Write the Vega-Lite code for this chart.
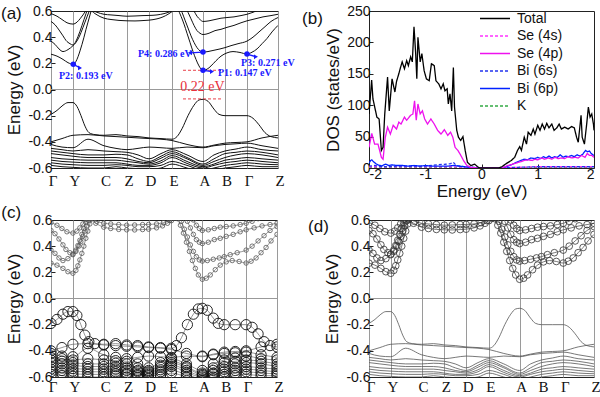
{
"$schema":"https://vega.github.io/schema/vega-lite/v6.json",
"background":"white",
"padding":{"left":0,"top":3,"right":0,"bottom":0},
"config":{
 "view":{"stroke":"#222","strokeWidth":1},
 "axis":{"labelFont":"Liberation Sans","titleFont":"Liberation Sans","labelFontSize":14,"titleFontSize":17,"titleFontWeight":"normal","labelColor":"#111","titleColor":"#111","tickColor":"#222","domain":false,"grid":false,"labelOverlap":false,"tickCount":20}
},
"datasets":{
"klab":[{"k":0,"l":"Γ"},{"k":22,"l":"Y"},{"k":53,"l":"C"},{"k":76,"l":"Z"},{"k":98,"l":"D"},{"k":121,"l":"E"},{"k":152,"l":"A"},{"k":174,"l":"B"},{"k":196,"l":"Γ"},{"k":227,"l":"Z"}],
"bands":[
{"b":"c1","t":"c","k":0,"e":0.27},{"b":"c1","t":"c","k":6,"e":0.255},{"b":"c1","t":"c","k":12,"e":0.23},{"b":"c1","t":"c","k":17,"e":0.205},{"b":"c1","t":"c","k":22,"e":0.193},{"b":"c1","t":"c","k":25,"e":0.215},{"b":"c1","t":"c","k":27,"e":0.25},{"b":"c1","t":"c","k":29,"e":0.295},{"b":"c1","t":"c","k":31,"e":0.345},{"b":"c1","t":"c","k":33,"e":0.4},{"b":"c1","t":"c","k":35,"e":0.46},{"b":"c1","t":"c","k":37,"e":0.515},{"b":"c1","t":"c","k":39,"e":0.57},{"b":"c1","t":"c","k":41,"e":0.625},
{"b":"c2","t":"c","k":0,"e":0.37},{"b":"c2","t":"c","k":4,"e":0.345},{"b":"c2","t":"c","k":8,"e":0.31},{"b":"c2","t":"c","k":12,"e":0.29},{"b":"c2","t":"c","k":17,"e":0.305},{"b":"c2","t":"c","k":22,"e":0.335},{"b":"c2","t":"c","k":25,"e":0.36},{"b":"c2","t":"c","k":28,"e":0.4},{"b":"c2","t":"c","k":30,"e":0.435},{"b":"c2","t":"c","k":32,"e":0.475},{"b":"c2","t":"c","k":34,"e":0.515},{"b":"c2","t":"c","k":36,"e":0.555},{"b":"c2","t":"c","k":38,"e":0.595},{"b":"c2","t":"c","k":40,"e":0.635},
{"b":"c3","t":"c","k":0,"e":0.52},{"b":"c3","t":"c","k":4,"e":0.495},{"b":"c3","t":"c","k":8,"e":0.455},{"b":"c3","t":"c","k":12,"e":0.41},{"b":"c3","t":"c","k":15,"e":0.375},{"b":"c3","t":"c","k":19,"e":0.35},{"b":"c3","t":"c","k":22,"e":0.34},{"b":"c3","t":"c","k":25,"e":0.37},{"b":"c3","t":"c","k":27,"e":0.405},{"b":"c3","t":"c","k":29,"e":0.445},{"b":"c3","t":"c","k":31,"e":0.49},{"b":"c3","t":"c","k":33,"e":0.535},{"b":"c3","t":"c","k":35,"e":0.58},{"b":"c3","t":"c","k":37,"e":0.625},
{"b":"c4","t":"c","k":0,"e":0.58},{"b":"c4","t":"c","k":6,"e":0.56},{"b":"c4","t":"c","k":11,"e":0.535},{"b":"c4","t":"c","k":16,"e":0.51},{"b":"c4","t":"c","k":22,"e":0.5},{"b":"c4","t":"c","k":26,"e":0.515},{"b":"c4","t":"c","k":29,"e":0.54},{"b":"c4","t":"c","k":32,"e":0.57},{"b":"c4","t":"c","k":35,"e":0.605},
{"b":"c5","t":"c","k":34,"e":0.64},{"b":"c5","t":"c","k":40,"e":0.61},{"b":"c5","t":"c","k":46,"e":0.59},{"b":"c5","t":"c","k":53,"e":0.575},{"b":"c5","t":"c","k":60,"e":0.57},{"b":"c5","t":"c","k":68,"e":0.565},{"b":"c5","t":"c","k":76,"e":0.56},{"b":"c5","t":"c","k":84,"e":0.562},{"b":"c5","t":"c","k":92,"e":0.565},{"b":"c5","t":"c","k":98,"e":0.566},{"b":"c5","t":"c","k":106,"e":0.57},{"b":"c5","t":"c","k":113,"e":0.58},{"b":"c5","t":"c","k":119,"e":0.595},{"b":"c5","t":"c","k":124,"e":0.615},{"b":"c5","t":"c","k":128,"e":0.64},
{"b":"c6","t":"c","k":36,"e":0.64},{"b":"c6","t":"c","k":40,"e":0.605},{"b":"c6","t":"c","k":45,"e":0.575},{"b":"c6","t":"c","k":53,"e":0.545},{"b":"c6","t":"c","k":60,"e":0.535},{"b":"c6","t":"c","k":68,"e":0.528},{"b":"c6","t":"c","k":76,"e":0.525},{"b":"c6","t":"c","k":84,"e":0.524},{"b":"c6","t":"c","k":92,"e":0.527},{"b":"c6","t":"c","k":98,"e":0.53},{"b":"c6","t":"c","k":106,"e":0.54},{"b":"c6","t":"c","k":112,"e":0.555},{"b":"c6","t":"c","k":117,"e":0.575},{"b":"c6","t":"c","k":121,"e":0.595},{"b":"c6","t":"c","k":125,"e":0.62},
{"b":"c7","t":"c","k":124,"e":0.64},{"b":"c7","t":"c","k":127,"e":0.61},{"b":"c7","t":"c","k":130,"e":0.56},{"b":"c7","t":"c","k":133,"e":0.5},{"b":"c7","t":"c","k":136,"e":0.43},{"b":"c7","t":"c","k":139,"e":0.36},{"b":"c7","t":"c","k":142,"e":0.29},{"b":"c7","t":"c","k":145,"e":0.23},{"b":"c7","t":"c","k":148,"e":0.18},{"b":"c7","t":"c","k":152,"e":0.147},{"b":"c7","t":"c","k":156,"e":0.155},{"b":"c7","t":"c","k":160,"e":0.18},{"b":"c7","t":"c","k":165,"e":0.22},{"b":"c7","t":"c","k":170,"e":0.255},{"b":"c7","t":"c","k":176,"e":0.28},{"b":"c7","t":"c","k":182,"e":0.29},{"b":"c7","t":"c","k":189,"e":0.283},{"b":"c7","t":"c","k":196,"e":0.271},{"b":"c7","t":"c","k":201,"e":0.285},{"b":"c7","t":"c","k":206,"e":0.31},{"b":"c7","t":"c","k":211,"e":0.35},{"b":"c7","t":"c","k":216,"e":0.39},{"b":"c7","t":"c","k":221,"e":0.44},{"b":"c7","t":"c","k":227,"e":0.49},
{"b":"c8","t":"c","k":128,"e":0.64},{"b":"c8","t":"c","k":131,"e":0.59},{"b":"c8","t":"c","k":134,"e":0.53},{"b":"c8","t":"c","k":137,"e":0.47},{"b":"c8","t":"c","k":140,"e":0.41},{"b":"c8","t":"c","k":143,"e":0.36},{"b":"c8","t":"c","k":146,"e":0.32},{"b":"c8","t":"c","k":149,"e":0.295},{"b":"c8","t":"c","k":152,"e":0.286},{"b":"c8","t":"c","k":157,"e":0.29},{"b":"c8","t":"c","k":163,"e":0.3},{"b":"c8","t":"c","k":169,"e":0.31},{"b":"c8","t":"c","k":174,"e":0.32},{"b":"c8","t":"c","k":180,"e":0.335},{"b":"c8","t":"c","k":187,"e":0.35},{"b":"c8","t":"c","k":196,"e":0.37},{"b":"c8","t":"c","k":202,"e":0.4},{"b":"c8","t":"c","k":208,"e":0.44},{"b":"c8","t":"c","k":214,"e":0.48},{"b":"c8","t":"c","k":220,"e":0.52},{"b":"c8","t":"c","k":227,"e":0.55},
{"b":"c9","t":"c","k":134,"e":0.64},{"b":"c9","t":"c","k":137,"e":0.59},{"b":"c9","t":"c","k":140,"e":0.54},{"b":"c9","t":"c","k":143,"e":0.49},{"b":"c9","t":"c","k":146,"e":0.45},{"b":"c9","t":"c","k":149,"e":0.43},{"b":"c9","t":"c","k":152,"e":0.42},{"b":"c9","t":"c","k":158,"e":0.43},{"b":"c9","t":"c","k":164,"e":0.45},{"b":"c9","t":"c","k":170,"e":0.46},{"b":"c9","t":"c","k":176,"e":0.475},{"b":"c9","t":"c","k":183,"e":0.49},{"b":"c9","t":"c","k":190,"e":0.51},{"b":"c9","t":"c","k":196,"e":0.525},{"b":"c9","t":"c","k":204,"e":0.54},{"b":"c9","t":"c","k":212,"e":0.555},{"b":"c9","t":"c","k":220,"e":0.565},{"b":"c9","t":"c","k":227,"e":0.575},
{"b":"c10","t":"c","k":140,"e":0.64},{"b":"c10","t":"c","k":143,"e":0.6},{"b":"c10","t":"c","k":146,"e":0.56},{"b":"c10","t":"c","k":149,"e":0.535},{"b":"c10","t":"c","k":152,"e":0.52},{"b":"c10","t":"c","k":158,"e":0.525},{"b":"c10","t":"c","k":164,"e":0.535},{"b":"c10","t":"c","k":170,"e":0.545},{"b":"c10","t":"c","k":176,"e":0.55},{"b":"c10","t":"c","k":183,"e":0.555},{"b":"c10","t":"c","k":190,"e":0.565},{"b":"c10","t":"c","k":196,"e":0.575},{"b":"c10","t":"c","k":202,"e":0.59},{"b":"c10","t":"c","k":208,"e":0.61},
{"b":"v1","t":"v","k":0,"e":-0.19},{"b":"v1","t":"v","k":6,"e":-0.16},{"b":"v1","t":"v","k":12,"e":-0.12},{"b":"v1","t":"v","k":17,"e":-0.1},{"b":"v1","t":"v","k":22,"e":-0.1},{"b":"v1","t":"v","k":26,"e":-0.13},{"b":"v1","t":"v","k":30,"e":-0.2},{"b":"v1","t":"v","k":34,"e":-0.28},{"b":"v1","t":"v","k":38,"e":-0.33},{"b":"v1","t":"v","k":44,"e":-0.345},{"b":"v1","t":"v","k":53,"e":-0.35},{"b":"v1","t":"v","k":65,"e":-0.345},{"b":"v1","t":"v","k":76,"e":-0.355},{"b":"v1","t":"v","k":87,"e":-0.36},{"b":"v1","t":"v","k":98,"e":-0.37},{"b":"v1","t":"v","k":110,"e":-0.375},{"b":"v1","t":"v","k":121,"e":-0.38},{"b":"v1","t":"v","k":126,"e":-0.36},{"b":"v1","t":"v","k":131,"e":-0.3},{"b":"v1","t":"v","k":137,"e":-0.2},{"b":"v1","t":"v","k":143,"e":-0.12},{"b":"v1","t":"v","k":148,"e":-0.08},{"b":"v1","t":"v","k":152,"e":-0.075},{"b":"v1","t":"v","k":157,"e":-0.09},{"b":"v1","t":"v","k":163,"e":-0.15},{"b":"v1","t":"v","k":168,"e":-0.19},{"b":"v1","t":"v","k":174,"e":-0.2},{"b":"v1","t":"v","k":185,"e":-0.2},{"b":"v1","t":"v","k":196,"e":-0.2},{"b":"v1","t":"v","k":202,"e":-0.22},{"b":"v1","t":"v","k":208,"e":-0.27},{"b":"v1","t":"v","k":214,"e":-0.33},{"b":"v1","t":"v","k":220,"e":-0.36},{"b":"v1","t":"v","k":227,"e":-0.37},
{"b":"v2","t":"v","k":0,"e":-0.4},{"b":"v2","t":"v","k":11,"e":-0.375},{"b":"v2","t":"v","k":22,"e":-0.35},{"b":"v2","t":"v","k":37,"e":-0.345},{"b":"v2","t":"v","k":53,"e":-0.355},{"b":"v2","t":"v","k":65,"e":-0.36},{"b":"v2","t":"v","k":76,"e":-0.365},{"b":"v2","t":"v","k":87,"e":-0.37},{"b":"v2","t":"v","k":98,"e":-0.375},{"b":"v2","t":"v","k":110,"e":-0.38},{"b":"v2","t":"v","k":121,"e":-0.39},{"b":"v2","t":"v","k":136,"e":-0.42},{"b":"v2","t":"v","k":152,"e":-0.44},{"b":"v2","t":"v","k":163,"e":-0.425},{"b":"v2","t":"v","k":174,"e":-0.41},{"b":"v2","t":"v","k":185,"e":-0.405},{"b":"v2","t":"v","k":196,"e":-0.4},{"b":"v2","t":"v","k":211,"e":-0.37},{"b":"v2","t":"v","k":227,"e":-0.35},
{"b":"v3","t":"v","k":0,"e":-0.42},{"b":"v3","t":"v","k":11,"e":-0.44},{"b":"v3","t":"v","k":22,"e":-0.445},{"b":"v3","t":"v","k":37,"e":-0.38},{"b":"v3","t":"v","k":53,"e":-0.43},{"b":"v3","t":"v","k":65,"e":-0.45},{"b":"v3","t":"v","k":76,"e":-0.46},{"b":"v3","t":"v","k":87,"e":-0.45},{"b":"v3","t":"v","k":98,"e":-0.44},{"b":"v3","t":"v","k":110,"e":-0.445},{"b":"v3","t":"v","k":121,"e":-0.45},{"b":"v3","t":"v","k":136,"e":-0.44},{"b":"v3","t":"v","k":152,"e":-0.445},{"b":"v3","t":"v","k":163,"e":-0.43},{"b":"v3","t":"v","k":174,"e":-0.42},{"b":"v3","t":"v","k":185,"e":-0.415},{"b":"v3","t":"v","k":196,"e":-0.41},{"b":"v3","t":"v","k":211,"e":-0.43},{"b":"v3","t":"v","k":227,"e":-0.45},
{"b":"v4","t":"v","k":0,"e":-0.45},{"b":"v4","t":"v","k":11,"e":-0.46},{"b":"v4","t":"v","k":22,"e":-0.47},{"b":"v4","t":"v","k":37,"e":-0.46},{"b":"v4","t":"v","k":53,"e":-0.47},{"b":"v4","t":"v","k":65,"e":-0.475},{"b":"v4","t":"v","k":76,"e":-0.48},{"b":"v4","t":"v","k":87,"e":-0.5},{"b":"v4","t":"v","k":98,"e":-0.53},{"b":"v4","t":"v","k":110,"e":-0.49},{"b":"v4","t":"v","k":121,"e":-0.46},{"b":"v4","t":"v","k":136,"e":-0.5},{"b":"v4","t":"v","k":152,"e":-0.55},{"b":"v4","t":"v","k":163,"e":-0.5},{"b":"v4","t":"v","k":174,"e":-0.47},{"b":"v4","t":"v","k":185,"e":-0.455},{"b":"v4","t":"v","k":196,"e":-0.44},{"b":"v4","t":"v","k":211,"e":-0.46},{"b":"v4","t":"v","k":227,"e":-0.47},
{"b":"v5","t":"v","k":0,"e":-0.47},{"b":"v5","t":"v","k":11,"e":-0.48},{"b":"v5","t":"v","k":22,"e":-0.49},{"b":"v5","t":"v","k":37,"e":-0.5},{"b":"v5","t":"v","k":53,"e":-0.5},{"b":"v5","t":"v","k":65,"e":-0.495},{"b":"v5","t":"v","k":76,"e":-0.5},{"b":"v5","t":"v","k":87,"e":-0.53},{"b":"v5","t":"v","k":98,"e":-0.55},{"b":"v5","t":"v","k":110,"e":-0.51},{"b":"v5","t":"v","k":121,"e":-0.475},{"b":"v5","t":"v","k":136,"e":-0.52},{"b":"v5","t":"v","k":152,"e":-0.57},{"b":"v5","t":"v","k":163,"e":-0.53},{"b":"v5","t":"v","k":174,"e":-0.49},{"b":"v5","t":"v","k":185,"e":-0.48},{"b":"v5","t":"v","k":196,"e":-0.47},{"b":"v5","t":"v","k":211,"e":-0.48},{"b":"v5","t":"v","k":227,"e":-0.5},
{"b":"v6","t":"v","k":0,"e":-0.49},{"b":"v6","t":"v","k":11,"e":-0.5},{"b":"v6","t":"v","k":22,"e":-0.51},{"b":"v6","t":"v","k":37,"e":-0.52},{"b":"v6","t":"v","k":53,"e":-0.52},{"b":"v6","t":"v","k":65,"e":-0.52},{"b":"v6","t":"v","k":76,"e":-0.53},{"b":"v6","t":"v","k":87,"e":-0.55},{"b":"v6","t":"v","k":98,"e":-0.56},{"b":"v6","t":"v","k":110,"e":-0.525},{"b":"v6","t":"v","k":121,"e":-0.49},{"b":"v6","t":"v","k":136,"e":-0.53},{"b":"v6","t":"v","k":152,"e":-0.58},{"b":"v6","t":"v","k":163,"e":-0.55},{"b":"v6","t":"v","k":174,"e":-0.52},{"b":"v6","t":"v","k":185,"e":-0.5},{"b":"v6","t":"v","k":196,"e":-0.49},{"b":"v6","t":"v","k":211,"e":-0.5},{"b":"v6","t":"v","k":227,"e":-0.52},
{"b":"v7","t":"v","k":0,"e":-0.52},{"b":"v7","t":"v","k":11,"e":-0.53},{"b":"v7","t":"v","k":22,"e":-0.535},{"b":"v7","t":"v","k":37,"e":-0.54},{"b":"v7","t":"v","k":53,"e":-0.54},{"b":"v7","t":"v","k":65,"e":-0.54},{"b":"v7","t":"v","k":76,"e":-0.55},{"b":"v7","t":"v","k":87,"e":-0.56},{"b":"v7","t":"v","k":98,"e":-0.57},{"b":"v7","t":"v","k":110,"e":-0.545},{"b":"v7","t":"v","k":121,"e":-0.505},{"b":"v7","t":"v","k":136,"e":-0.55},{"b":"v7","t":"v","k":152,"e":-0.59},{"b":"v7","t":"v","k":163,"e":-0.57},{"b":"v7","t":"v","k":174,"e":-0.54},{"b":"v7","t":"v","k":185,"e":-0.53},{"b":"v7","t":"v","k":196,"e":-0.52},{"b":"v7","t":"v","k":211,"e":-0.53},{"b":"v7","t":"v","k":227,"e":-0.54},
{"b":"v8","t":"v","k":0,"e":-0.54},{"b":"v8","t":"v","k":11,"e":-0.55},{"b":"v8","t":"v","k":22,"e":-0.555},{"b":"v8","t":"v","k":37,"e":-0.56},{"b":"v8","t":"v","k":53,"e":-0.56},{"b":"v8","t":"v","k":65,"e":-0.56},{"b":"v8","t":"v","k":76,"e":-0.57},{"b":"v8","t":"v","k":87,"e":-0.58},{"b":"v8","t":"v","k":98,"e":-0.58},{"b":"v8","t":"v","k":110,"e":-0.56},{"b":"v8","t":"v","k":121,"e":-0.52},{"b":"v8","t":"v","k":136,"e":-0.565},{"b":"v8","t":"v","k":152,"e":-0.6},{"b":"v8","t":"v","k":163,"e":-0.58},{"b":"v8","t":"v","k":174,"e":-0.56},{"b":"v8","t":"v","k":185,"e":-0.55},{"b":"v8","t":"v","k":196,"e":-0.54},{"b":"v8","t":"v","k":211,"e":-0.55},{"b":"v8","t":"v","k":227,"e":-0.56},
{"b":"v9","t":"v","k":0,"e":-0.56},{"b":"v9","t":"v","k":11,"e":-0.57},{"b":"v9","t":"v","k":22,"e":-0.575},{"b":"v9","t":"v","k":37,"e":-0.58},{"b":"v9","t":"v","k":53,"e":-0.58},{"b":"v9","t":"v","k":65,"e":-0.575},{"b":"v9","t":"v","k":76,"e":-0.58},{"b":"v9","t":"v","k":87,"e":-0.59},{"b":"v9","t":"v","k":98,"e":-0.59},{"b":"v9","t":"v","k":110,"e":-0.58},{"b":"v9","t":"v","k":121,"e":-0.55},{"b":"v9","t":"v","k":136,"e":-0.58},{"b":"v9","t":"v","k":152,"e":-0.615},{"b":"v9","t":"v","k":163,"e":-0.6},{"b":"v9","t":"v","k":174,"e":-0.58},{"b":"v9","t":"v","k":185,"e":-0.57},{"b":"v9","t":"v","k":196,"e":-0.56},{"b":"v9","t":"v","k":211,"e":-0.57},{"b":"v9","t":"v","k":227,"e":-0.575},
{"b":"v10","t":"v","k":0,"e":-0.58},{"b":"v10","t":"v","k":11,"e":-0.59},{"b":"v10","t":"v","k":22,"e":-0.595},{"b":"v10","t":"v","k":37,"e":-0.6},{"b":"v10","t":"v","k":53,"e":-0.6},{"b":"v10","t":"v","k":65,"e":-0.59},{"b":"v10","t":"v","k":76,"e":-0.6},{"b":"v10","t":"v","k":87,"e":-0.605},{"b":"v10","t":"v","k":98,"e":-0.61},{"b":"v10","t":"v","k":110,"e":-0.6},{"b":"v10","t":"v","k":121,"e":-0.57},{"b":"v10","t":"v","k":136,"e":-0.6},{"b":"v10","t":"v","k":152,"e":-0.63},{"b":"v10","t":"v","k":163,"e":-0.615},{"b":"v10","t":"v","k":174,"e":-0.6},{"b":"v10","t":"v","k":185,"e":-0.59},{"b":"v10","t":"v","k":196,"e":-0.58},{"b":"v10","t":"v","k":211,"e":-0.59},{"b":"v10","t":"v","k":227,"e":-0.59}
],
"dos":[
{"s":"K","x":-2,"y":1},{"s":"K","x":-1,"y":1},{"s":"K","x":-0.3,"y":0.5},{"s":"K","x":0,"y":0},{"s":"K","x":0.3,"y":0},{"s":"K","x":0.6,"y":0.5},{"s":"K","x":1,"y":1},{"s":"K","x":2,"y":1},
{"s":"Se (4s)","x":-2,"y":2},{"s":"Se (4s)","x":-1.5,"y":2},{"s":"Se (4s)","x":-1,"y":2},{"s":"Se (4s)","x":-0.5,"y":2},{"s":"Se (4s)","x":-0.3,"y":1},{"s":"Se (4s)","x":0,"y":0},{"s":"Se (4s)","x":0.3,"y":0},{"s":"Se (4s)","x":0.6,"y":1},{"s":"Se (4s)","x":1,"y":2},{"s":"Se (4s)","x":1.5,"y":2},{"s":"Se (4s)","x":2,"y":2},
{"s":"Bi  (6s)","x":-2,"y":3},{"s":"Bi  (6s)","x":-1.9,"y":4},{"s":"Bi  (6s)","x":-1.75,"y":2},{"s":"Bi  (6s)","x":-1.5,"y":3},{"s":"Bi  (6s)","x":-1.2,"y":3},{"s":"Bi  (6s)","x":-1,"y":3},{"s":"Bi  (6s)","x":-0.8,"y":5},{"s":"Bi  (6s)","x":-0.65,"y":6},{"s":"Bi  (6s)","x":-0.55,"y":7},{"s":"Bi  (6s)","x":-0.5,"y":9},{"s":"Bi  (6s)","x":-0.45,"y":4},{"s":"Bi  (6s)","x":-0.3,"y":2},{"s":"Bi  (6s)","x":-0.1,"y":1},{"s":"Bi  (6s)","x":0,"y":0},{"s":"Bi  (6s)","x":0.3,"y":0},{"s":"Bi  (6s)","x":0.6,"y":1},{"s":"Bi  (6s)","x":1,"y":2},{"s":"Bi  (6s)","x":1.5,"y":2},{"s":"Bi  (6s)","x":2,"y":2},
{"s":"Bi  (6p)","x":-2,"y":8},{"s":"Bi  (6p)","x":-1.97,"y":12},{"s":"Bi  (6p)","x":-1.95,"y":13},{"s":"Bi  (6p)","x":-1.92,"y":10},{"s":"Bi  (6p)","x":-1.88,"y":7},{"s":"Bi  (6p)","x":-1.84,"y":5},{"s":"Bi  (6p)","x":-1.8,"y":4},{"s":"Bi  (6p)","x":-1.77,"y":3},{"s":"Bi  (6p)","x":-1.74,"y":5},{"s":"Bi  (6p)","x":-1.7,"y":6},{"s":"Bi  (6p)","x":-1.65,"y":4},{"s":"Bi  (6p)","x":-1.6,"y":5},{"s":"Bi  (6p)","x":-1.5,"y":4},{"s":"Bi  (6p)","x":-1.4,"y":4},{"s":"Bi  (6p)","x":-1.3,"y":3},{"s":"Bi  (6p)","x":-1.2,"y":4},{"s":"Bi  (6p)","x":-1.1,"y":3},{"s":"Bi  (6p)","x":-1,"y":4},{"s":"Bi  (6p)","x":-0.9,"y":3},{"s":"Bi  (6p)","x":-0.8,"y":3},{"s":"Bi  (6p)","x":-0.7,"y":3},{"s":"Bi  (6p)","x":-0.6,"y":3},{"s":"Bi  (6p)","x":-0.5,"y":4},{"s":"Bi  (6p)","x":-0.4,"y":3},{"s":"Bi  (6p)","x":-0.3,"y":2},{"s":"Bi  (6p)","x":-0.2,"y":1},{"s":"Bi  (6p)","x":-0.1,"y":0.5},{"s":"Bi  (6p)","x":0,"y":0},{"s":"Bi  (6p)","x":0.3,"y":0},{"s":"Bi  (6p)","x":0.4,"y":1},{"s":"Bi  (6p)","x":0.47,"y":3},{"s":"Bi  (6p)","x":0.55,"y":6},{"s":"Bi  (6p)","x":0.62,"y":9},{"s":"Bi  (6p)","x":0.7,"y":12},{"s":"Bi  (6p)","x":0.76,"y":14},{"s":"Bi  (6p)","x":0.82,"y":13},{"s":"Bi  (6p)","x":0.88,"y":16},{"s":"Bi  (6p)","x":0.95,"y":15},{"s":"Bi  (6p)","x":1,"y":17},{"s":"Bi  (6p)","x":1.05,"y":15},{"s":"Bi  (6p)","x":1.1,"y":18},{"s":"Bi  (6p)","x":1.15,"y":16},{"s":"Bi  (6p)","x":1.2,"y":19},{"s":"Bi  (6p)","x":1.25,"y":16},{"s":"Bi  (6p)","x":1.3,"y":18},{"s":"Bi  (6p)","x":1.35,"y":17},{"s":"Bi  (6p)","x":1.4,"y":21},{"s":"Bi  (6p)","x":1.45,"y":17},{"s":"Bi  (6p)","x":1.5,"y":19},{"s":"Bi  (6p)","x":1.55,"y":18},{"s":"Bi  (6p)","x":1.6,"y":20},{"s":"Bi  (6p)","x":1.65,"y":18},{"s":"Bi  (6p)","x":1.7,"y":21},{"s":"Bi  (6p)","x":1.75,"y":19},{"s":"Bi  (6p)","x":1.8,"y":22},{"s":"Bi  (6p)","x":1.85,"y":28},{"s":"Bi  (6p)","x":1.88,"y":26},{"s":"Bi  (6p)","x":1.92,"y":27},{"s":"Bi  (6p)","x":1.95,"y":23},{"s":"Bi  (6p)","x":2,"y":20},
{"s":"Se (4p)","x":-2,"y":33},{"s":"Se (4p)","x":-1.95,"y":55},{"s":"Se (4p)","x":-1.9,"y":38},{"s":"Se (4p)","x":-1.84,"y":38},{"s":"Se (4p)","x":-1.78,"y":17},{"s":"Se (4p)","x":-1.75,"y":14},{"s":"Se (4p)","x":-1.71,"y":49},{"s":"Se (4p)","x":-1.67,"y":65},{"s":"Se (4p)","x":-1.62,"y":54},{"s":"Se (4p)","x":-1.57,"y":68},{"s":"Se (4p)","x":-1.51,"y":62},{"s":"Se (4p)","x":-1.47,"y":73},{"s":"Se (4p)","x":-1.43,"y":70},{"s":"Se (4p)","x":-1.37,"y":81},{"s":"Se (4p)","x":-1.33,"y":76},{"s":"Se (4p)","x":-1.26,"y":84},{"s":"Se (4p)","x":-1.22,"y":86},{"s":"Se (4p)","x":-1.19,"y":107},{"s":"Se (4p)","x":-1.16,"y":76},{"s":"Se (4p)","x":-1.13,"y":102},{"s":"Se (4p)","x":-1.09,"y":86},{"s":"Se (4p)","x":-1.05,"y":91},{"s":"Se (4p)","x":-1.01,"y":78},{"s":"Se (4p)","x":-0.96,"y":70},{"s":"Se (4p)","x":-0.9,"y":78},{"s":"Se (4p)","x":-0.84,"y":70},{"s":"Se (4p)","x":-0.78,"y":60},{"s":"Se (4p)","x":-0.72,"y":54},{"s":"Se (4p)","x":-0.66,"y":61},{"s":"Se (4p)","x":-0.6,"y":52},{"s":"Se (4p)","x":-0.55,"y":57},{"s":"Se (4p)","x":-0.51,"y":49},{"s":"Se (4p)","x":-0.47,"y":33},{"s":"Se (4p)","x":-0.42,"y":28},{"s":"Se (4p)","x":-0.38,"y":22},{"s":"Se (4p)","x":-0.32,"y":12},{"s":"Se (4p)","x":-0.26,"y":4},{"s":"Se (4p)","x":-0.19,"y":1},{"s":"Se (4p)","x":-0.06,"y":0},{"s":"Se (4p)","x":0.36,"y":0},{"s":"Se (4p)","x":0.47,"y":4},{"s":"Se (4p)","x":0.55,"y":6},{"s":"Se (4p)","x":0.62,"y":8},{"s":"Se (4p)","x":0.7,"y":10},{"s":"Se (4p)","x":0.76,"y":12},{"s":"Se (4p)","x":0.83,"y":13},{"s":"Se (4p)","x":0.9,"y":12},{"s":"Se (4p)","x":0.95,"y":14},{"s":"Se (4p)","x":1,"y":13},{"s":"Se (4p)","x":1.07,"y":16},{"s":"Se (4p)","x":1.12,"y":14},{"s":"Se (4p)","x":1.19,"y":16},{"s":"Se (4p)","x":1.25,"y":14},{"s":"Se (4p)","x":1.31,"y":17},{"s":"Se (4p)","x":1.36,"y":15},{"s":"Se (4p)","x":1.42,"y":16},{"s":"Se (4p)","x":1.48,"y":15},{"s":"Se (4p)","x":1.54,"y":18},{"s":"Se (4p)","x":1.6,"y":16},{"s":"Se (4p)","x":1.66,"y":17},{"s":"Se (4p)","x":1.72,"y":16},{"s":"Se (4p)","x":1.78,"y":20},{"s":"Se (4p)","x":1.84,"y":17},{"s":"Se (4p)","x":1.88,"y":23},{"s":"Se (4p)","x":1.92,"y":20},{"s":"Se (4p)","x":1.96,"y":20},{"s":"Se (4p)","x":2,"y":17},
{"s":"Total","x":-2,"y":86},{"s":"Total","x":-1.97,"y":120},{"s":"Total","x":-1.953,"y":140},{"s":"Total","x":-1.93,"y":110},{"s":"Total","x":-1.91,"y":102},{"s":"Total","x":-1.86,"y":81},{"s":"Total","x":-1.82,"y":78},{"s":"Total","x":-1.78,"y":28},{"s":"Total","x":-1.75,"y":33},{"s":"Total","x":-1.72,"y":86},{"s":"Total","x":-1.67,"y":145},{"s":"Total","x":-1.64,"y":91},{"s":"Total","x":-1.59,"y":142},{"s":"Total","x":-1.54,"y":121},{"s":"Total","x":-1.51,"y":138},{"s":"Total","x":-1.47,"y":150},{"s":"Total","x":-1.44,"y":160},{"s":"Total","x":-1.41,"y":169},{"s":"Total","x":-1.37,"y":158},{"s":"Total","x":-1.33,"y":171},{"s":"Total","x":-1.3,"y":163},{"s":"Total","x":-1.26,"y":177},{"s":"Total","x":-1.23,"y":169},{"s":"Total","x":-1.2,"y":225},{"s":"Total","x":-1.17,"y":182},{"s":"Total","x":-1.15,"y":142},{"s":"Total","x":-1.13,"y":208},{"s":"Total","x":-1.09,"y":169},{"s":"Total","x":-1.06,"y":182},{"s":"Total","x":-1.02,"y":155},{"s":"Total","x":-0.98,"y":142},{"s":"Total","x":-0.93,"y":139},{"s":"Total","x":-0.89,"y":166},{"s":"Total","x":-0.84,"y":163},{"s":"Total","x":-0.81,"y":139},{"s":"Total","x":-0.76,"y":134},{"s":"Total","x":-0.72,"y":126},{"s":"Total","x":-0.68,"y":134},{"s":"Total","x":-0.65,"y":123},{"s":"Total","x":-0.61,"y":126},{"s":"Total","x":-0.59,"y":102},{"s":"Total","x":-0.56,"y":118},{"s":"Total","x":-0.53,"y":91},{"s":"Total","x":-0.5,"y":160},{"s":"Total","x":-0.48,"y":97},{"s":"Total","x":-0.44,"y":60},{"s":"Total","x":-0.41,"y":49},{"s":"Total","x":-0.37,"y":44},{"s":"Total","x":-0.33,"y":50},{"s":"Total","x":-0.29,"y":28},{"s":"Total","x":-0.25,"y":9},{"s":"Total","x":-0.19,"y":4},{"s":"Total","x":-0.12,"y":6},{"s":"Total","x":-0.07,"y":2},{"s":"Total","x":-0.03,"y":0},{"s":"Total","x":0.3,"y":0},{"s":"Total","x":0.36,"y":2},{"s":"Total","x":0.44,"y":7},{"s":"Total","x":0.53,"y":12},{"s":"Total","x":0.59,"y":17},{"s":"Total","x":0.64,"y":28},{"s":"Total","x":0.68,"y":34},{"s":"Total","x":0.71,"y":28},{"s":"Total","x":0.76,"y":49},{"s":"Total","x":0.8,"y":38},{"s":"Total","x":0.83,"y":57},{"s":"Total","x":0.88,"y":52},{"s":"Total","x":0.92,"y":62},{"s":"Total","x":0.95,"y":54},{"s":"Total","x":1,"y":68},{"s":"Total","x":1.04,"y":60},{"s":"Total","x":1.08,"y":70},{"s":"Total","x":1.12,"y":62},{"s":"Total","x":1.16,"y":71},{"s":"Total","x":1.2,"y":64},{"s":"Total","x":1.25,"y":70},{"s":"Total","x":1.29,"y":60},{"s":"Total","x":1.34,"y":64},{"s":"Total","x":1.38,"y":70},{"s":"Total","x":1.42,"y":62},{"s":"Total","x":1.48,"y":65},{"s":"Total","x":1.54,"y":62},{"s":"Total","x":1.6,"y":66},{"s":"Total","x":1.65,"y":64},{"s":"Total","x":1.69,"y":49},{"s":"Total","x":1.72,"y":41},{"s":"Total","x":1.77,"y":84},{"s":"Total","x":1.79,"y":49},{"s":"Total","x":1.83,"y":38},{"s":"Total","x":1.87,"y":70},{"s":"Total","x":1.9,"y":97},{"s":"Total","x":1.93,"y":81},{"s":"Total","x":1.96,"y":86},{"s":"Total","x":1.99,"y":70},{"s":"Total","x":2,"y":60}
]
},
"bounds":"flush",
"columns":2,
"spacing":{"row":52,"column":91},
"concat":[
 {"width":227,"height":157,
  "layer":[
   {"data":{"name":"bands"},
    "mark":{"type":"line","clip":true,"color":"#111","strokeWidth":1,"interpolate":"monotone"},
    "encoding":{
     "x":{"field":"k","type":"quantitative","scale":{"domain":[0,227],"nice":false,"zero":false},
          "axis":{"values":[0,22,53,76,98,121,152,174,196,227],"labels":false,"title":null,"grid":true,"gridColor":"#9a9a9a","gridWidth":1,"ticks":false}},
     "y":{"field":"e","type":"quantitative","scale":{"domain":[-0.6,0.6],"nice":false,"zero":false},
          "axis":{"values":[-0.6,-0.4,-0.2,0,0.2,0.4,0.6],"labelExpr":"replace(format(datum.value,'.1f'),'−','-')","title":"Energy (eV)","tickSize":-4,"labelPadding":3,"titlePadding":4}},
     "detail":{"field":"b"}}},
   {"data":{"values":[{}]},"mark":{"type":"rule","color":"#999","strokeWidth":1},"encoding":{"y":{"datum":0}}},
   {"data":{"name":"klab"},
    "mark":{"type":"text","font":"Liberation Serif","fontSize":15,"color":"#111","baseline":"middle","align":"center","dx":2},
    "encoding":{"x":{"field":"k","type":"quantitative"},"y":{"datum":-0.7},"text":{"field":"l"}}},
   {"data":{"values":[{"k":132,"k2":172,"e":0.147},{"k":132,"k2":172,"e":-0.072}]},
    "mark":{"type":"rule","color":"#e8404a","strokeWidth":1,"strokeDash":[3,2]},
    "encoding":{"x":{"field":"k","type":"quantitative"},"x2":{"field":"k2"},"y":{"field":"e","type":"quantitative"}}},
   {"data":{"values":[{"k":151.5,"e":0.02,"t":"0.22 eV"}]},
    "mark":{"type":"text","color":"#e8303c","font":"Liberation Serif","fontSize":14,"align":"center","baseline":"middle"},
    "encoding":{"x":{"field":"k","type":"quantitative"},"y":{"field":"e","type":"quantitative"},"text":{"field":"t"}}},
   {"data":{"values":[{"k":22.3,"e":0.193,"k2":29,"e2":0.165,"d":"r"},{"k":152,"e":0.147,"k2":161,"e2":0.137,"d":"r"},{"k":196,"e":0.271,"k2":205,"e2":0.25,"d":"r"},{"k":152,"e":0.286,"k2":139,"e2":0.28,"d":"l"}]},
    "layer":[
     {"mark":{"type":"rule","color":"#1a1aff","strokeWidth":1.3},
      "encoding":{"x":{"field":"k","type":"quantitative"},"x2":{"field":"k2"},"y":{"field":"e","type":"quantitative"},"y2":{"field":"e2"}}},
     {"mark":{"type":"point","filled":true,"color":"#1a1aff","size":22,"opacity":1},
      "encoding":{"x":{"field":"k2","type":"quantitative"},"y":{"field":"e2","type":"quantitative"},"shape":{"field":"d","type":"nominal","scale":{"domain":["r","l"],"range":["triangle-right","triangle-left"]},"legend":null}}},
     {"mark":{"type":"point","filled":true,"color":"#1a1aff","size":30,"opacity":1},
      "encoding":{"x":{"field":"k","type":"quantitative"},"y":{"field":"e","type":"quantitative"}}}
    ]},
   {"data":{"values":[{"k":8,"e":0.1,"t":"P2: 0.193 eV"},{"k":87,"e":0.268,"t":"P4: 0.286 eV"},{"k":167,"e":0.127,"t":"P1: 0.147 eV"},{"k":190,"e":0.203,"t":"P3: 0.271 eV"}]},
    "mark":{"type":"text","color":"#1a1aff","font":"Liberation Serif","fontWeight":"bold","fontSize":10,"align":"left","baseline":"middle"},
    "encoding":{"x":{"field":"k","type":"quantitative"},"y":{"field":"e","type":"quantitative"},"text":{"field":"t"}}},
   {"data":{"values":[{}]},
    "mark":{"type":"text","text":"(a)","font":"Liberation Sans","fontSize":17,"align":"left","baseline":"middle","color":"#111"},
    "encoding":{"x":{"datum":-50},"y":{"datum":0.577}}}
  ]},
 {"width":225,"height":157,
  "layer":[
   {"data":{"name":"dos"},
    "mark":{"type":"line","clip":true,"strokeWidth":1.3},
    "encoding":{
     "x":{"field":"x","type":"quantitative","scale":{"domain":[-2,2],"nice":false,"zero":false},
          "axis":{"values":[-2,-1,0,1,2],"labelExpr":"replace(format(datum.value,'d'),'−','-')","title":"Energy (eV)","tickSize":-4,"labelPadding":3,"titlePadding":2}},
     "y":{"field":"y","type":"quantitative","scale":{"domain":[0,250],"nice":false},
          "axis":{"values":[0,50,100,150,200,250],"title":"DOS (states/eV)","tickSize":-4,"labelPadding":3,"titlePadding":4}},
     "color":{"field":"s","type":"nominal","scale":{"domain":["Total","Se (4s)","Se (4p)","Bi  (6s)","Bi  (6p)","K"],"range":["#000000","#ff33ff","#ee11ee","#2233ee","#0022ff","#33aa44"]},
              "legend":{"orient":"none","legendX":428,"legendY":-1,"padding":0,"title":null,"symbolType":"M-1,0H3","symbolSize":225,"symbolStrokeWidth":1.5,"labelFont":"Liberation Sans","labelFontSize":14,"labelColor":"#111","rowPadding":1.5,"labelOffset":21}},
     "strokeDash":{"field":"s","type":"nominal","scale":{"domain":["Total","Se (4s)","Se (4p)","Bi  (6s)","Bi  (6p)","K"],"range":[[1,0],[3,2],[1,0],[3,2],[1,0],[3,2]]},
              "legend":{"orient":"none","legendX":428,"legendY":-1,"padding":0,"title":null,"symbolType":"M-1,0H3","symbolSize":225,"symbolStrokeWidth":1.5,"labelFont":"Liberation Sans","labelFontSize":14,"labelColor":"#111","rowPadding":1.5,"labelOffset":21}}}},
   {"data":{"values":[{}]},
    "mark":{"type":"text","text":"(b)","font":"Liberation Sans","fontSize":17,"align":"left","baseline":"middle","color":"#111"},
    "encoding":{"x":{"datum":-3.19},"y":{"datum":237}}}
  ]},
 {"width":226,"height":157,
  "layer":[
   {"data":{"values":[{}]},"mark":{"type":"rule","color":"#999","strokeWidth":1},"encoding":{"y":{"datum":0}}},
   {"data":{"name":"bands"},
    "mark":{"type":"line","clip":true,"color":"#666","strokeWidth":0.7,"interpolate":"monotone"},
    "encoding":{
     "x":{"field":"k","type":"quantitative","scale":{"domain":[0,227],"nice":false,"zero":false},
          "axis":{"values":[0,22,53,76,98,121,152,174,196,227],"labels":false,"title":null,"grid":true,"gridColor":"#9a9a9a","gridWidth":1,"ticks":false}},
     "y":{"field":"e","type":"quantitative","scale":{"domain":[-0.6,0.6],"nice":false,"zero":false},
          "axis":{"values":[-0.6,-0.4,-0.2,0,0.2,0.4,0.6],"labelExpr":"replace(format(datum.value,'.1f'),'−','-')","title":"Energy (eV)","tickSize":-4,"labelPadding":3,"titlePadding":4}},
     "detail":{"field":"b"}}},
   {"data":{"name":"bands"},"transform":[{"filter":"datum.t=='c'"}],
    "mark":{"type":"point","clip":true,"filled":false,"stroke":"#555","strokeWidth":0.8,"size":20,"opacity":1},
    "encoding":{"x":{"field":"k","type":"quantitative"},"y":{"field":"e","type":"quantitative"}}},
   {"data":{"name":"bands"},"transform":[{"filter":"datum.t=='v'"}],
    "mark":{"type":"point","clip":true,"filled":false,"stroke":"#111","strokeWidth":0.9,"size":105,"opacity":1},
    "encoding":{"x":{"field":"k","type":"quantitative"},"y":{"field":"e","type":"quantitative"}}},
   {"data":{"name":"klab"},
    "mark":{"type":"text","font":"Liberation Serif","fontSize":15,"color":"#111","baseline":"middle","align":"center","dx":2},
    "encoding":{"x":{"field":"k","type":"quantitative"},"y":{"datum":-0.68},"text":{"field":"l"}}},
   {"data":{"values":[{}]},
    "mark":{"type":"text","text":"(c)","font":"Liberation Sans","fontSize":17,"align":"left","baseline":"middle","color":"#111"},
    "encoding":{"x":{"datum":-50},"y":{"datum":0.652}}}
  ]},
 {"width":225,"height":157,
  "layer":[
   {"data":{"values":[{}]},"mark":{"type":"rule","color":"#999","strokeWidth":1},"encoding":{"y":{"datum":0}}},
   {"data":{"name":"bands"},
    "mark":{"type":"line","clip":true,"color":"#555","strokeWidth":0.8,"interpolate":"monotone"},
    "encoding":{
     "x":{"field":"k","type":"quantitative","scale":{"domain":[0,227],"nice":false,"zero":false},
          "axis":{"values":[0,22,53,76,98,121,152,174,196,227],"labels":false,"title":null,"grid":true,"gridColor":"#9a9a9a","gridWidth":1,"ticks":false}},
     "y":{"field":"e","type":"quantitative","scale":{"domain":[-0.6,0.6],"nice":false,"zero":false},
          "axis":{"values":[-0.6,-0.4,-0.2,0,0.2,0.4,0.6],"labelExpr":"replace(format(datum.value,'.1f'),'−','-')","title":"Energy (eV)","tickSize":-4,"labelPadding":3,"titlePadding":4}},
     "detail":{"field":"b"}}},
   {"data":{"name":"bands"},"transform":[{"filter":"datum.t=='c'"}],
    "mark":{"type":"point","clip":true,"filled":false,"stroke":"#333","strokeWidth":0.8,"size":45,"opacity":1},
    "encoding":{"x":{"field":"k","type":"quantitative"},"y":{"field":"e","type":"quantitative"}}},
   {"data":{"name":"klab"},
    "mark":{"type":"text","font":"Liberation Serif","fontSize":15,"color":"#111","baseline":"middle","align":"center","dx":2},
    "encoding":{"x":{"field":"k","type":"quantitative"},"y":{"datum":-0.68},"text":{"field":"l"}}},
   {"data":{"values":[{}]},
    "mark":{"type":"text","text":"(d)","font":"Liberation Sans","fontSize":17,"align":"left","baseline":"middle","color":"#111"},
    "encoding":{"x":{"datum":-61.5},"y":{"datum":0.547}}}
  ]}
]
}
